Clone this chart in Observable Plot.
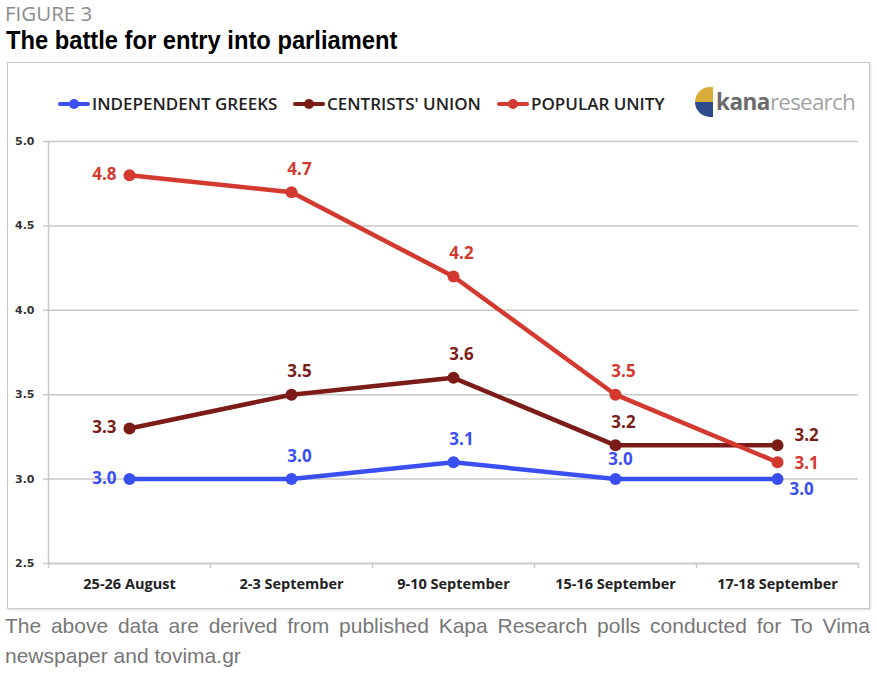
<!DOCTYPE html>
<html>
<head>
<meta charset="utf-8">
<script src="https://cdn.jsdelivr.net/npm/d3@7"></script>
<script src="https://cdn.jsdelivr.net/npm/@observablehq/plot@0.6"></script>
<style>
  html, body { margin: 0; padding: 0; background: #fff; }
  body { width: 877px; height: 675px; position: relative; overflow: hidden; }
  #fig { position: absolute; left: 5px; top: 0px; font: 400 20.5px "Open Sans", sans-serif; line-height: 26px; color: #8c8c8c; }
  #title { position: absolute; left: 6px; top: 26px; font: 700 25.5px "Liberation Sans", sans-serif; color: #000; transform: scaleX(0.93); transform-origin: 0 0; white-space: nowrap; }
  #box { position: absolute; left: 7px; top: 62px; width: 861px; height: 545px; border: 1.5px solid #c9c9c9; box-shadow: 1px 1px 2px rgba(0,0,0,0.15); }
  #legend { position: absolute; left: 0; top: 92px; height: 22px; font: 600 17px "Open Sans", sans-serif; color: #222; }
  .item { position: absolute; display: flex; align-items: center; white-space: nowrap; }
  .mk { position: relative; width: 32px; height: 22px; margin-right: 2px; }
  .mk .ln { position: absolute; left: 0; right: 0; top: 9px; height: 4.5px; border-radius: 2px; }
  .mk .dt { position: absolute; left: 11px; top: 6px; width: 10px; height: 10px; border-radius: 5px; }
  #logo { position: absolute; left: 695px; top: 86px; display: flex; align-items: center; }
  #logo .ic { width: 18px; height: 30px; border-radius: 18px 0 0 18px; background: linear-gradient(#d9ad3a 0 50%, #2c4a8c 50% 100%); margin-right: 3px; }
  #logo .k { font: 700 22.5px "Open Sans", sans-serif; color: #6a6a6a; letter-spacing: -0.5px; }
  #logo .r { font: 400 22.5px "Open Sans", sans-serif; color: #a3a3a3; letter-spacing: -0.8px; }
  #chart { position: absolute; left: 9px; top: 125px; }
  #caption { position: absolute; left: 5px; top: 611px; width: 865px; font: 400 21px "Liberation Sans", sans-serif; color: #777; line-height: 30px; text-align: justify; }
</style>
</head>
<body>
<div id="fig">FIGURE 3</div>
<div id="title">The battle for entry into parliament</div>
<div id="box"></div>
<div id="legend"></div>
<div id="logo"><div class="ic"></div><span class="k">kana</span><span class="r">research</span></div>
<div id="chart"></div>
<div id="caption">The above data are derived from published Kapa Research polls conducted for To Vima newspaper and tovima.gr</div>
<script>
// ---- data ----
const periods = ["25-26 August", "2-3 September", "9-10 September", "15-16 September", "17-18 September"];
const seriesNames = ["INDEPENDENT GREEKS", "CENTRISTS' UNION", "POPULAR UNITY"];
const independentGreeks = [3.0, 3.0, 3.1, 3.0, 3.0];
const centristsUnion = [3.3, 3.5, 3.6, 3.2, 3.2];
const popularUnity = [4.8, 4.7, 4.2, 3.5, 3.1];
const yTicks = [2.5, 3.0, 3.5, 4.0, 4.5, 5.0];

// ---- styles / label placement ----
const colors = ["#3a4ff2", "#7c1c18", "#d3392e"];
const placements = [
  ["left", "above", "above", "aboveLow", "rightBelow"],
  ["left", "above", "above", "above", "rightAbove"],
  ["left", "above", "above", "above", "right"]
];
const placeStyle = {
  left:       {dx: -13, dy: -1, anchor: "end"},
  above:      {dx: 8,   dy: -23, anchor: "middle"},
  aboveLow:   {dx: 5,   dy: -20, anchor: "middle"},
  right:      {dx: 17,  dy: 1,  anchor: "start"},
  rightAbove: {dx: 17,  dy: -10, anchor: "start"},
  rightBelow: {dx: 12,  dy: 10, anchor: "start"}
};

const allValues = [independentGreeks, centristsUnion, popularUnity];
const rows = [];
allValues.forEach((vals, s) => vals.forEach((v, i) => rows.push({series: seriesNames[s], si: s, i, period: periods[i], value: v, place: placements[s][i]})));

// legend
const legend = document.getElementById("legend");
const legendX = [58, 293, 497];
seriesNames.forEach((n, s) => {
  const it = document.createElement("div");
  it.className = "item";
  it.style.left = legendX[s] + "px";
  it.innerHTML = `<div class="mk"><div class="ln" style="background:${colors[s]}"></div><div class="dt" style="background:${colors[s]}"></div></div><span>${n}</span>`;
  legend.appendChild(it);
});

const idx = d3.range(periods.length);
const boundaries = d3.range(periods.length + 1).map(k => k - 0.5);

const textMarks = Object.entries(placeStyle).map(([key, st]) =>
  Plot.text(rows.filter(r => r.place === key), {
    x: "i", y: "value", text: d => d.value.toFixed(1),
    fill: d => colors[d.si], dx: st.dx, dy: st.dy, textAnchor: st.anchor,
    fontSize: 17, fontWeight: 700, fontFamily: "Open Sans, sans-serif"
  })
);

const chart = Plot.plot({
  width: 860,
  height: 480,
  marginLeft: 39,
  marginRight: 11,
  marginTop: 16,
  marginBottom: 42,
  style: {background: "transparent", overflow: "visible"},
  x: {type: "linear", domain: [-0.5, periods.length - 0.5], axis: null},
  y: {domain: [2.5, 5.0], axis: null},
  color: {domain: seriesNames, range: colors},
  marks: [
    Plot.gridY(yTicks, {stroke: "#c8c8c8", strokeOpacity: 1, strokeWidth: 1.5}),
    Plot.ruleX([-0.5], {stroke: "#c8c8c8", strokeWidth: 1.5}),
    Plot.ruleY([2.5], {stroke: "#c8c8c8", strokeWidth: 1.5}),
    Plot.axisY({ticks: yTicks, tickSize: 5, tickPadding: 9, tickFormat: d => d.toFixed(1), stroke: "#c8c8c8", strokeWidth: 1.5,
      fontSize: 11, fontWeight: 700, fontFamily: "DejaVu Sans, sans-serif", fill: "#333", label: null}),
    Plot.axisX({ticks: boundaries, tickSize: 5, tickFormat: () => "", stroke: "#c8c8c8", strokeWidth: 1.5, label: null}),
    Plot.axisX({ticks: idx, tickSize: 0, tickPadding: 15, tickFormat: i => periods[i],
      fontSize: 14.5, fontWeight: 700, fontFamily: "Open Sans, sans-serif", fill: "#222", label: null}),
    Plot.line(rows, {x: "i", y: "value", z: "series", stroke: "series", strokeWidth: 4.5, strokeLinejoin: "round"}),
    Plot.dot(rows, {x: "i", y: "value", fill: "series", r: 6, stroke: "none"}),
    ...textMarks
  ]
});
document.getElementById("chart").appendChild(chart);
</script>
</body>
</html>
